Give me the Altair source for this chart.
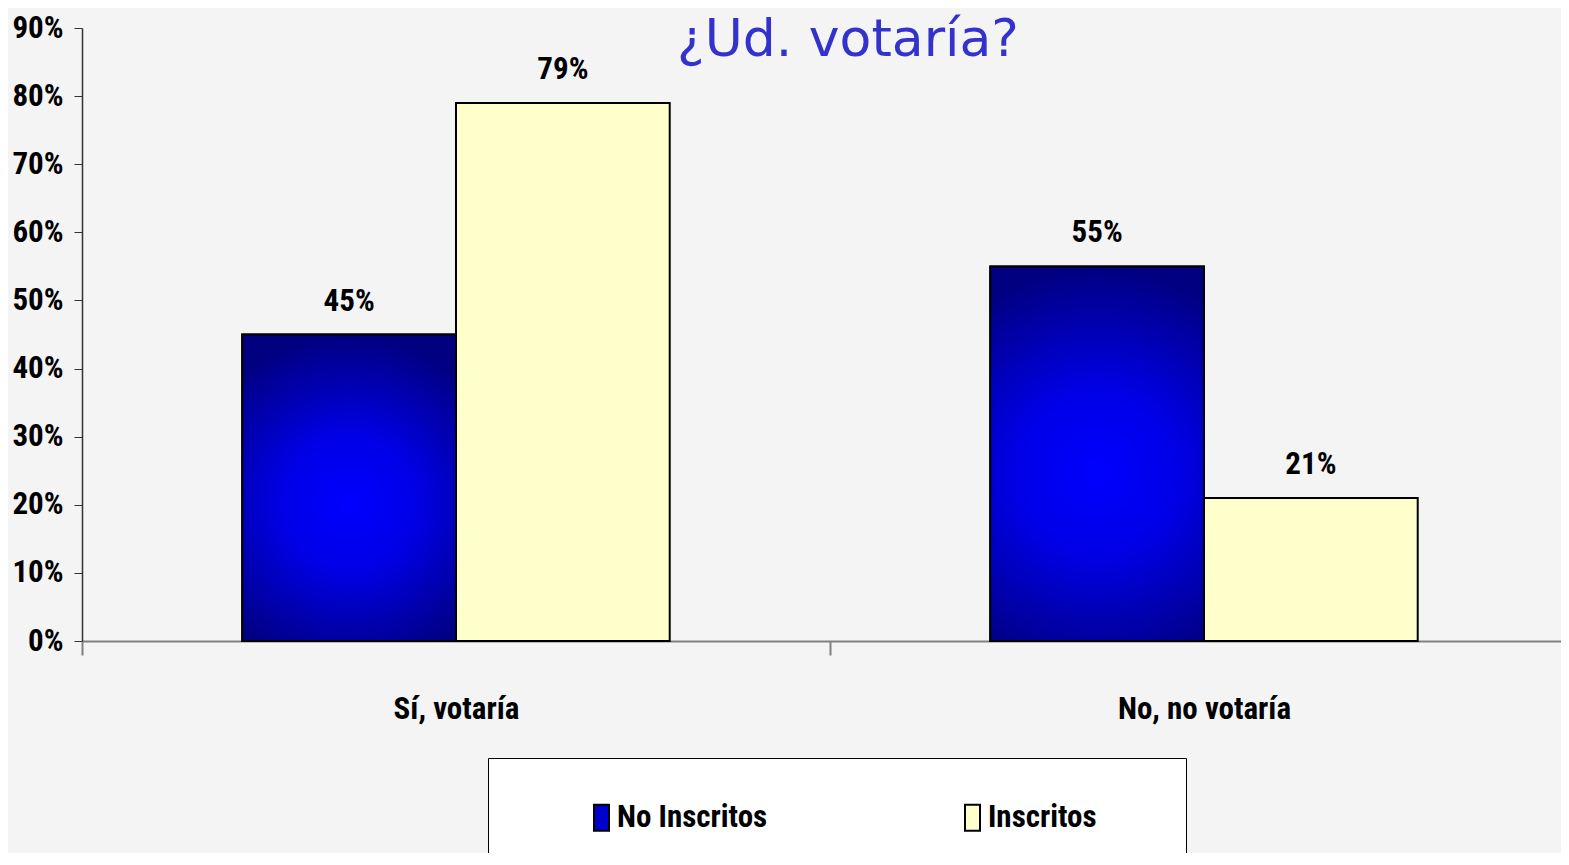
import altair as alt
import pandas as pd

categories = ["Sí, votaría", "No, no votaría"]
series = ["No Inscritos", "Inscritos"]
no_inscritos = [0.45, 0.55]
inscritos = [0.79, 0.21]
title_text = "¿Ud. votaría?"
y_ticks = [0.0, 0.1, 0.2, 0.3, 0.4, 0.5, 0.6, 0.7, 0.8, 0.9]
series_colors = ["#0000cc", "#ffffcc"]

rows = []
for i, c in enumerate(categories):
    rows.append({"cat": c, "serie": series[0], "val": no_inscritos[i]})
    rows.append({"cat": c, "serie": series[1], "val": inscritos[i]})
df = pd.DataFrame(rows)

NARROW = "Liberation Sans Narrow, Arial Narrow, Roboto Condensed, sans-serif"

x_enc = alt.X(
    "cat:N", sort=categories,
    scale=alt.Scale(range=[0, 1496], paddingInner=0, paddingOuter=0),
    axis=alt.Axis(title=None, labelAngle=0, tickBand="extent", tickSize=14,
                  tickColor="#808080", tickWidth=2, domainColor="#808080", domainWidth=2,
                  labelPadding=63, labelBaseline="alphabetic", labelFont=NARROW,
                  labelFontSize=31, labelFontWeight="bold", labelColor="black",
                  labelLimit=400),
)
xo_enc = alt.XOffset("serie:N", sort=series,
                     scale=alt.Scale(domain=series, paddingInner=0, paddingOuter=0.75))
y_enc = alt.Y(
    "val:Q", scale=alt.Scale(domain=[0, 0.9], nice=False),
    axis=alt.Axis(values=y_ticks, format=".0%", title=None, grid=False, tickSize=8,
                  tickColor="#333333", domainColor="#333333", domainWidth=1.5,
                  labelPadding=11, labelFont=NARROW, labelFontSize=31,
                  labelFontWeight="bold", labelColor="black"),
)

grad = alt.RadialGradient(
    gradient="radial",
    stops=[alt.GradientStop(color="#0000ff", offset=0),
           alt.GradientStop(color="#0000e6", offset=0.4),
           alt.GradientStop(color="#000080", offset=1)],
    x1=0.5, y1=0.55, r1=0, x2=0.5, y2=0.55, r2=0.55,
)

bars = alt.Chart(df).mark_bar(stroke="black", strokeWidth=2).encode(
    x=x_enc, xOffset=xo_enc, y=y_enc,
    color=alt.Color(
        "serie:N", sort=series,
        scale=alt.Scale(domain=series, range=series_colors),
        legend=alt.Legend(
            title=".", titleOrient="right", titleColor="white", titleFontSize=8,
            titlePadding=42,
            orient="none", legendX=406, legendY=730,
            direction="horizontal", fillColor="white", strokeColor="black",
            padding=44, symbolType="M-0.577,-1H0.577V1H-0.577Z", symbolSize=676,
            symbolStrokeColor="black", symbolStrokeWidth=2, symbolOffset=54,
            labelOffset=0, columnPadding=135, gridAlign="each",
            labelFont=NARROW, labelFontSize=31, labelFontWeight="bold",
            labelColor="black", labelLimit=400,
        ),
    ),
)

grad_bars = alt.Chart(df).transform_filter(
    alt.datum.serie == series[0]
).mark_bar(fill=grad, stroke="black", strokeWidth=2).encode(
    x=x_enc, xOffset=xo_enc, y=y_enc,
)

labels = alt.Chart(df).mark_text(
    dy=-24, baseline="alphabetic", font=NARROW, fontSize=31, fontWeight="bold",
    color="black",
).encode(
    x=x_enc, xOffset=xo_enc, y=y_enc,
    text=alt.Text("val:Q", format=".0%"),
)

title = alt.Chart(pd.DataFrame({"t": [title_text]})).mark_text(
    font="DejaVu Sans", fontSize=52, color="#3333cc", baseline="alphabetic",
    align="center",
).encode(x=alt.value(766), y=alt.value(28), text="t:N")

chart = alt.layer(bars, grad_bars, labels, title).properties(
    width=1479, height=613,
    autosize=alt.AutoSizeParams(type="none"),
    padding={"left": 74, "top": 20, "right": 0, "bottom": 212},
).configure(background="#f4f4f4").configure_view(strokeWidth=0)

chart.save("out.html", embed_options={"renderer": "svg", "actions": False})
